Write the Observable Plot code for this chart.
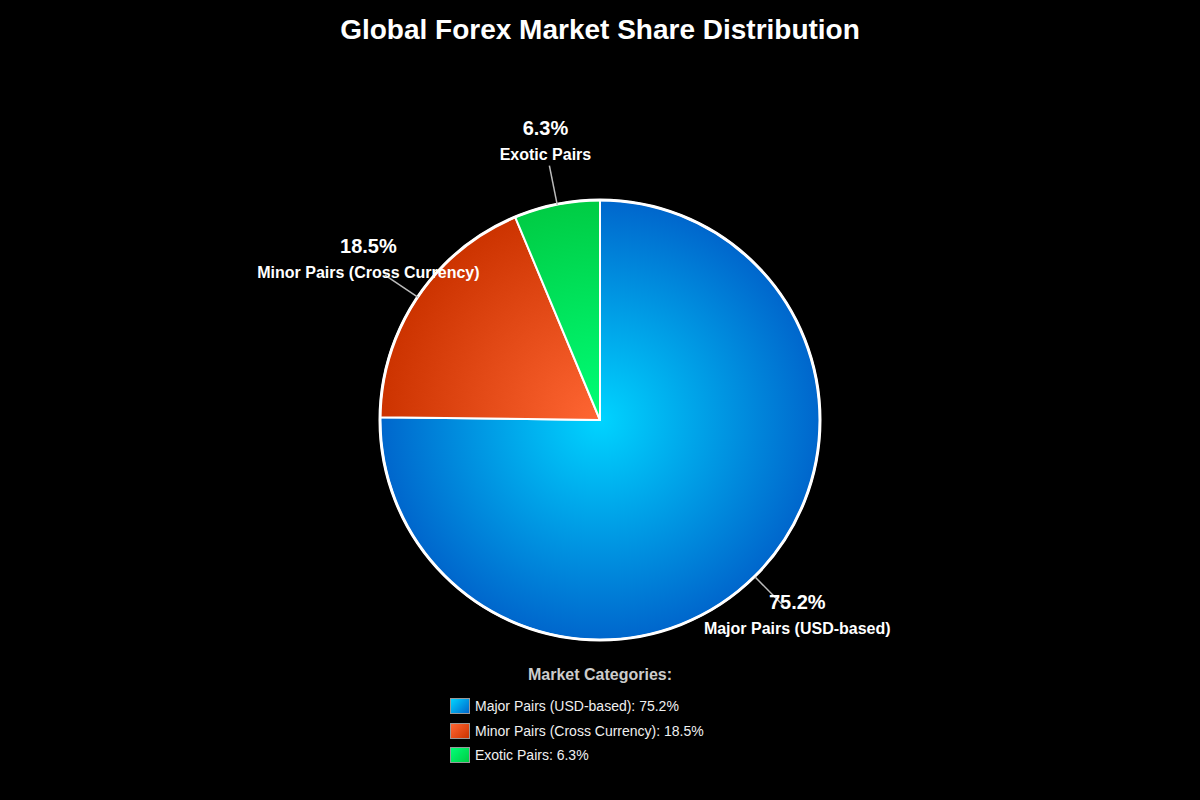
<!DOCTYPE html>
<html>
<head>
<meta charset="utf-8">
<script src="https://cdn.jsdelivr.net/npm/d3@7"></script>
<script src="https://cdn.jsdelivr.net/npm/@observablehq/plot@0.6"></script>
<style>
  html, body { margin: 0; padding: 0; background: #000; width: 1200px; height: 800px; overflow: hidden; }
  body { font-family: "Liberation Sans", Arial, Helvetica, sans-serif; position: relative; }
  #title { position: absolute; left: 0; top: 14px; width: 1200px; text-align: center; color: #fff; font-size: 28px; font-weight: bold; line-height: 32px; }
  #chart { position: absolute; left: 0; top: 55px; }
  #legend { position: absolute; left: 0; top: 664px; width: 1200px; }
  #legend .lt { text-align: center; color: #cccccc; font-size: 16px; font-weight: bold; line-height: 22px; }
  #legend .items { position: absolute; left: 450px; top: 30px; }
  #legend .item { display: flex; align-items: center; height: 24.5px; color: #f0f0f0; font-size: 14px; }
  #legend .sw { width: 18px; height: 14px; border: 1px solid #999; margin-right: 5px; box-sizing: content-box; }
</style>
</head>
<body>
<div id="title">Global Forex Market Share Distribution</div>
<div id="chart"></div>
<div id="legend"><div class="lt">Market Categories:</div><div class="items"></div></div>
<script>
const categories = ["Major Pairs (USD-based)", "Minor Pairs (Cross Currency)", "Exotic Pairs"];
const shares = [75.2, 18.5, 6.3];
const innerColors = ["#00d4ff", "#ff6633", "#00ff77"];
const outerColors = ["#0066cc", "#cc3300", "#00cc44"];

const W = 1200, H = 600, CY = 365, R = 220;
const data = categories.map((name, i) => ({name, share: shares[i], i}));
const arcs = d3.pie().sort(null).value(d => d.share)(data);

const mid = a => (a.startAngle + a.endAngle) / 2;
const px = (a, r) => Math.sin(mid(a)) * r;
const py = (a, r) => -Math.cos(mid(a)) * r;

const labelData = arcs.map(a => ({
  name: a.data.name,
  pct: a.data.share.toFixed(1) + "%",
  x1: px(a, R), y1: py(a, R),
  x2: px(a, R + 40), y2: py(a, R + 40),
  lx: px(a, R + 60), ly: py(a, R + 60)
}));

function pieMark(index, scales) {
  const cx = scales.x(0), cy = scales.y(0);
  const g = d3.create("svg:g").attr("transform", `translate(${cx},${cy})`);
  const defs = g.append("defs");
  arcs.forEach((a, i) => {
    const rg = defs.append("radialGradient")
      .attr("id", "pg" + i).attr("gradientUnits", "userSpaceOnUse")
      .attr("cx", 0).attr("cy", 0).attr("r", R);
    rg.append("stop").attr("offset", "0%").attr("stop-color", innerColors[i]);
    rg.append("stop").attr("offset", "100%").attr("stop-color", outerColors[i]);
  });
  const arc = d3.arc().innerRadius(0).outerRadius(R);
  g.selectAll("path").data(arcs).join("path")
    .attr("d", arc)
    .attr("fill", (d, i) => `url(#pg${i})`)
    .attr("stroke", "#ffffff")
    .attr("stroke-width", 2)
    .attr("stroke-linejoin", "round");
  g.append("circle").attr("r", R).attr("fill", "none").attr("stroke", "#ffffff").attr("stroke-width", 3);
  return g.node();
}

const chart = Plot.plot({
  width: W, height: H,
  margin: 0,
  style: {background: "transparent", overflow: "visible"},
  x: {domain: [-W / 2, W / 2], range: [0, W], axis: null},
  y: {domain: [-CY, H - CY], range: [0, H], axis: null},
  marks: [
    pieMark,
    Plot.link(labelData, {x1: "x1", y1: "y1", x2: "x2", y2: "y2", stroke: "#bbbbbb", strokeWidth: 1.5}),
    Plot.text(labelData, {x: "lx", y: "ly", text: "pct", dy: -17, fill: "#ffffff", fontSize: 20, fontWeight: "bold", textAnchor: "middle", fontFamily: "Liberation Sans, Arial, sans-serif"}),
    Plot.text(labelData, {x: "lx", y: "ly", text: "name", dy: 9, fill: "#ffffff", fontSize: 16, fontWeight: "bold", textAnchor: "middle", fontFamily: "Liberation Sans, Arial, sans-serif"})
  ]
});
document.getElementById("chart").appendChild(chart);

const items = d3.select("#legend .items");
data.forEach((d, i) => {
  const it = items.append("div").attr("class", "item");
  it.append("div").attr("class", "sw")
    .style("background", `linear-gradient(135deg, ${innerColors[i]}, ${outerColors[i]})`);
  it.append("span").text(`${d.name}: ${d.share.toFixed(1)}%`);
});
</script>
</body>
</html>
